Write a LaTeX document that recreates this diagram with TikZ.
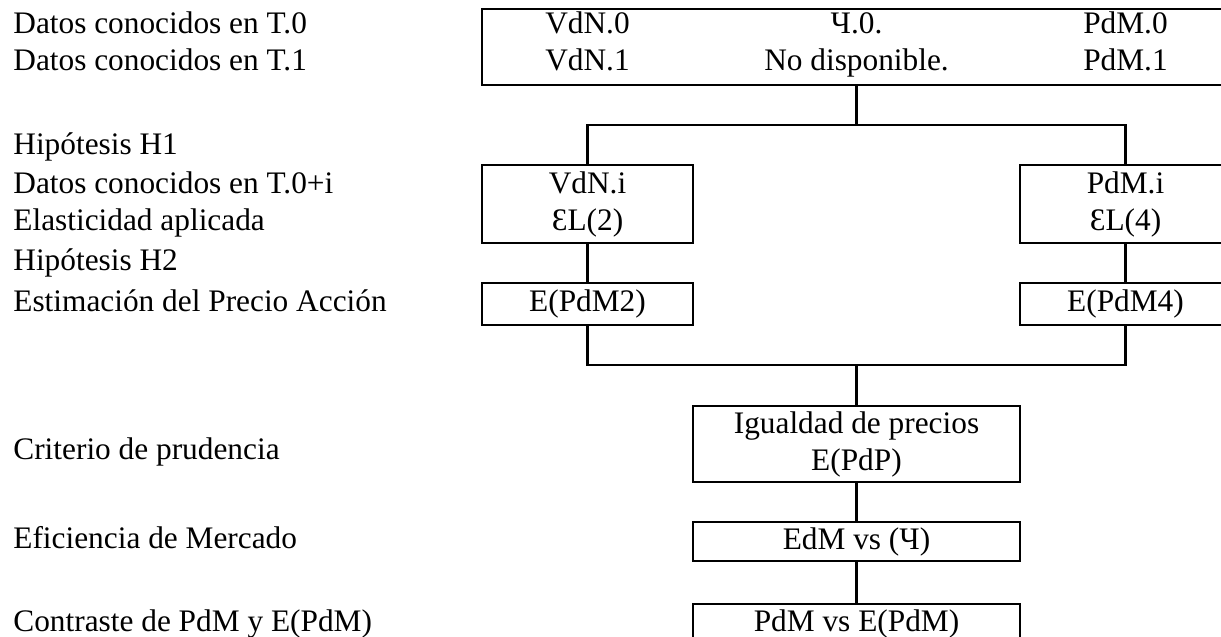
\documentclass[tikz,border=0pt]{standalone}
\usepackage{fontspec}
\setmainfont{Liberation Serif}
\begin{document}
\begin{tikzpicture}[x=0.75pt,y=-0.75pt,line width=2.1pt,
  every node/.style={font=\fontsize{23.5pt}{27.75pt}\selectfont},
  box/.style={draw,rectangle,inner sep=0pt,align=center},
  txt/.style={anchor=base,inner sep=0pt},
  lbl/.style={anchor=base west,inner sep=0pt}]
\useasboundingbox (0,0) rectangle (1221,636);
\clip (0,0) rectangle (1221,636);
% left labels
\node[lbl] (l1) at (12,33) {Datos conocidos en T.0};
\node[lbl] (l2) at (12,70) {Datos conocidos en T.1};
\node[lbl] (l3) at (12,154) {Hipótesis H1};
\node[lbl] (l4) at (12,193) {Datos conocidos en T.0+i};
\node[lbl] (l5) at (12,230) {Elasticidad aplicada};
\node[lbl] (l6) at (12,270) {Hipótesis H2};
\node[lbl] (l7) at (12,311) {Estimación del Precio Acción};
\node[lbl] (l8) at (12,459) {Criterio de prudencia};
\node[lbl] (l9) at (12,548) {Eficiencia de Mercado};
\node[lbl] (l10) at (12,631) {Contraste de PdM y E(PdM)};
% top box
\node[box,minimum width=561.75pt,minimum height=57pt] (top) at (856.5,47) {};
\node[txt] (t1a) at (587.5,33) {VdN.0};
\node[txt] (t2a) at (856.5,33) {Ч.0.};
\node[txt] (t3a) at (1125.5,33) {PdM.0};
\node[txt] (t1b) at (587.5,70) {VdN.1};
\node[txt] (t2b) at (856.5,70) {No disponible.};
\node[txt] (t3b) at (1125.5,70) {PdM.1};
% second level
\node[box,minimum width=158.25pt,minimum height=58.5pt] (vdni) at (587.5,204) {VdN.i\\ƐL(2)};
\node[box,minimum width=158.25pt,minimum height=58.5pt] (pdmi) at (1125.5,204) {PdM.i\\ƐL(4)};
\node[box,minimum width=158.25pt,minimum height=31.5pt] (e2) at (587.5,304) {E(PdM2)};
\node[box,minimum width=158.25pt,minimum height=31.5pt] (e4) at (1125.5,304) {E(PdM4)};
% lower column
\node[box,minimum width=245.25pt,minimum height=57pt] (ig) at (856.5,444) {Igualdad de precios\\E(PdP)};
\node[box,minimum width=245.25pt,minimum height=29.25pt] (edm) at (856.5,541.5) {EdM vs (Ч)};
\node[box,minimum width=245.25pt,minimum height=29.25pt] (pvs) at (856.5,623.5) {PdM vs E(PdM)};
% connectors
\coordinate (j1) at (856.5,125);
\coordinate (j2) at (856.5,365);
\draw (top.south) -- (j1);
\draw (vdni.north) |- (j1) -| (pdmi.north);
\draw (vdni.south) -- (e2.north);
\draw (pdmi.south) -- (e4.north);
\draw (e2.south) |- (j2) -| (e4.south);
\draw (j2) -- (ig.north);
\draw (ig.south) -- (edm.north);
\draw (edm.south) -- (pvs.north);
\end{tikzpicture}
\end{document}
